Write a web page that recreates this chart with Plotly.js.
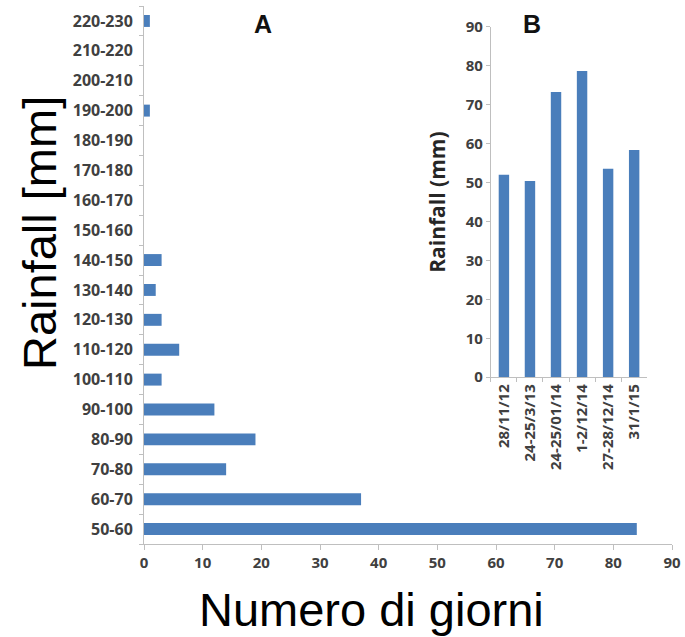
<!DOCTYPE html>
<html>
<head>
<meta charset="utf-8">
<script src="https://cdn.plot.ly/plotly-3.0.1.min.js"></script>
<style>html,body{margin:0;padding:0;background:#fff;}</style>
</head>
<body>
<div id="chart" style="width:685px;height:637px;"></div>
<script>
// Panel A: rainfall classes (mm) and number of days
const rainClasses = ["50-60","60-70","70-80","80-90","90-100","100-110","110-120","120-130","130-140","140-150","150-160","160-170","170-180","180-190","190-200","200-210","210-220","220-230"];
const numDays = [84,37,14,19,12,3,6,3,2,3,0,0,0,0,1,0,0,1];
const xTicksA = [0,10,20,30,40,50,60,70,80,90];

// Panel B: events and rainfall (mm)
const eventDates = ["28/11/12","24-25/3/13","24-25/01/14","1-2/12/14","27-28/12/14","31/1/15"];
const eventRain = [52,50.4,73.3,78.7,53.6,58.4];
const yTicksB = [0,10,20,30,40,50,60,70,80,90];

const barColor = "#4a7ebb";
const axisGray = "#bfbfbf";
const tickFont = {family: "Open Sans, sans-serif", size: 16, color: "#404040", weight: 700};
const tickFontX = {family: "Open Sans, sans-serif", size: 15, color: "#404040", weight: 700};
const tickFontB = {family: "Open Sans, sans-serif", size: 15, color: "#404040", weight: 700};

// plot-area pixel helpers for placing panel labels (plot area: x 144..672, y 6..544)
const px = v => (v - 144) / 528;
const py = v => (544 - v) / 538;

const traces = [
  {type: "bar", orientation: "h", y: rainClasses, x: numDays, marker: {color: barColor}, xaxis: "x", yaxis: "y", hoverinfo: "x+y"},
  {type: "bar", x: eventDates, y: eventRain, marker: {color: barColor}, xaxis: "x2", yaxis: "y2", hoverinfo: "x+y"}
];

const bigFont = {family: "Liberation Sans, Arial, sans-serif", size: 47, color: "#000"};
const labelFont = {family: "Liberation Sans, Arial, sans-serif", size: 25, color: "#111", weight: 700};

const layout = {
  width: 685, height: 637,
  margin: {l: 144, r: 13, t: 6, b: 93},
  paper_bgcolor: "#ffffff", plot_bgcolor: "rgba(0,0,0,0)",
  showlegend: false,
  bargap: 0.6,
  font: {family: "Open Sans, sans-serif", color: "#404040"},
  xaxis: {
    domain: [0, 1], range: [0, 90], tickvals: xTicksA, showgrid: false, zeroline: false,
    showline: true, linecolor: axisGray, linewidth: 1, ticks: "outside", ticklen: 5, tickcolor: axisGray,
    tickfont: tickFontX, anchor: "y"
  },
  yaxis: {
    domain: [0, 1], type: "category", range: [-0.5, 17.5], showgrid: false, zeroline: false,
    showline: true, linecolor: axisGray, linewidth: 1, ticks: "outside", ticklen: 4, tickcolor: axisGray,
    tickson: "boundaries", tickfont: tickFont, anchor: "x", ticklabelstandoff: 7
  },
  xaxis2: {
    domain: [0.657, 0.953], anchor: "y2", type: "category", showgrid: false, zeroline: false,
    showline: true, linecolor: axisGray, linewidth: 1, ticks: "outside", ticklen: 4, tickcolor: axisGray,
    tickson: "boundaries", tickangle: -90, tickfont: tickFontB
  },
  yaxis2: {
    domain: [0.310, 0.961], anchor: "x2", range: [0, 90], tickvals: yTicksB, showgrid: false, zeroline: false,
    showline: true, linecolor: axisGray, linewidth: 1, ticks: "outside", ticklen: 4, tickcolor: axisGray,
    tickfont: tickFontB,
    title: {text: "Rainfall (mm)", font: {family: "Open Sans, sans-serif", size: 21, color: "#262626", weight: 700}, standoff: 14}
  },
  annotations: [
    {text: "Rainfall [mm]", xref: "paper", yref: "paper", x: px(40), y: py(233), xanchor: "center", yanchor: "middle", textangle: -90, showarrow: false, font: bigFont},
    {text: "Numero di giorni", xref: "paper", yref: "paper", x: px(371.5), y: py(609.5), xanchor: "center", yanchor: "middle", showarrow: false, font: bigFont},
    {text: "A", xref: "paper", yref: "paper", x: px(263), y: py(24), xanchor: "center", yanchor: "middle", showarrow: false, font: labelFont},
    {text: "B", xref: "paper", yref: "paper", x: px(531.5), y: py(24), xanchor: "center", yanchor: "middle", showarrow: false, font: labelFont}
  ]
};

Plotly.newPlot("chart", traces, layout, {displayModeBar: false, staticPlot: true});
</script>
</body>
</html>
